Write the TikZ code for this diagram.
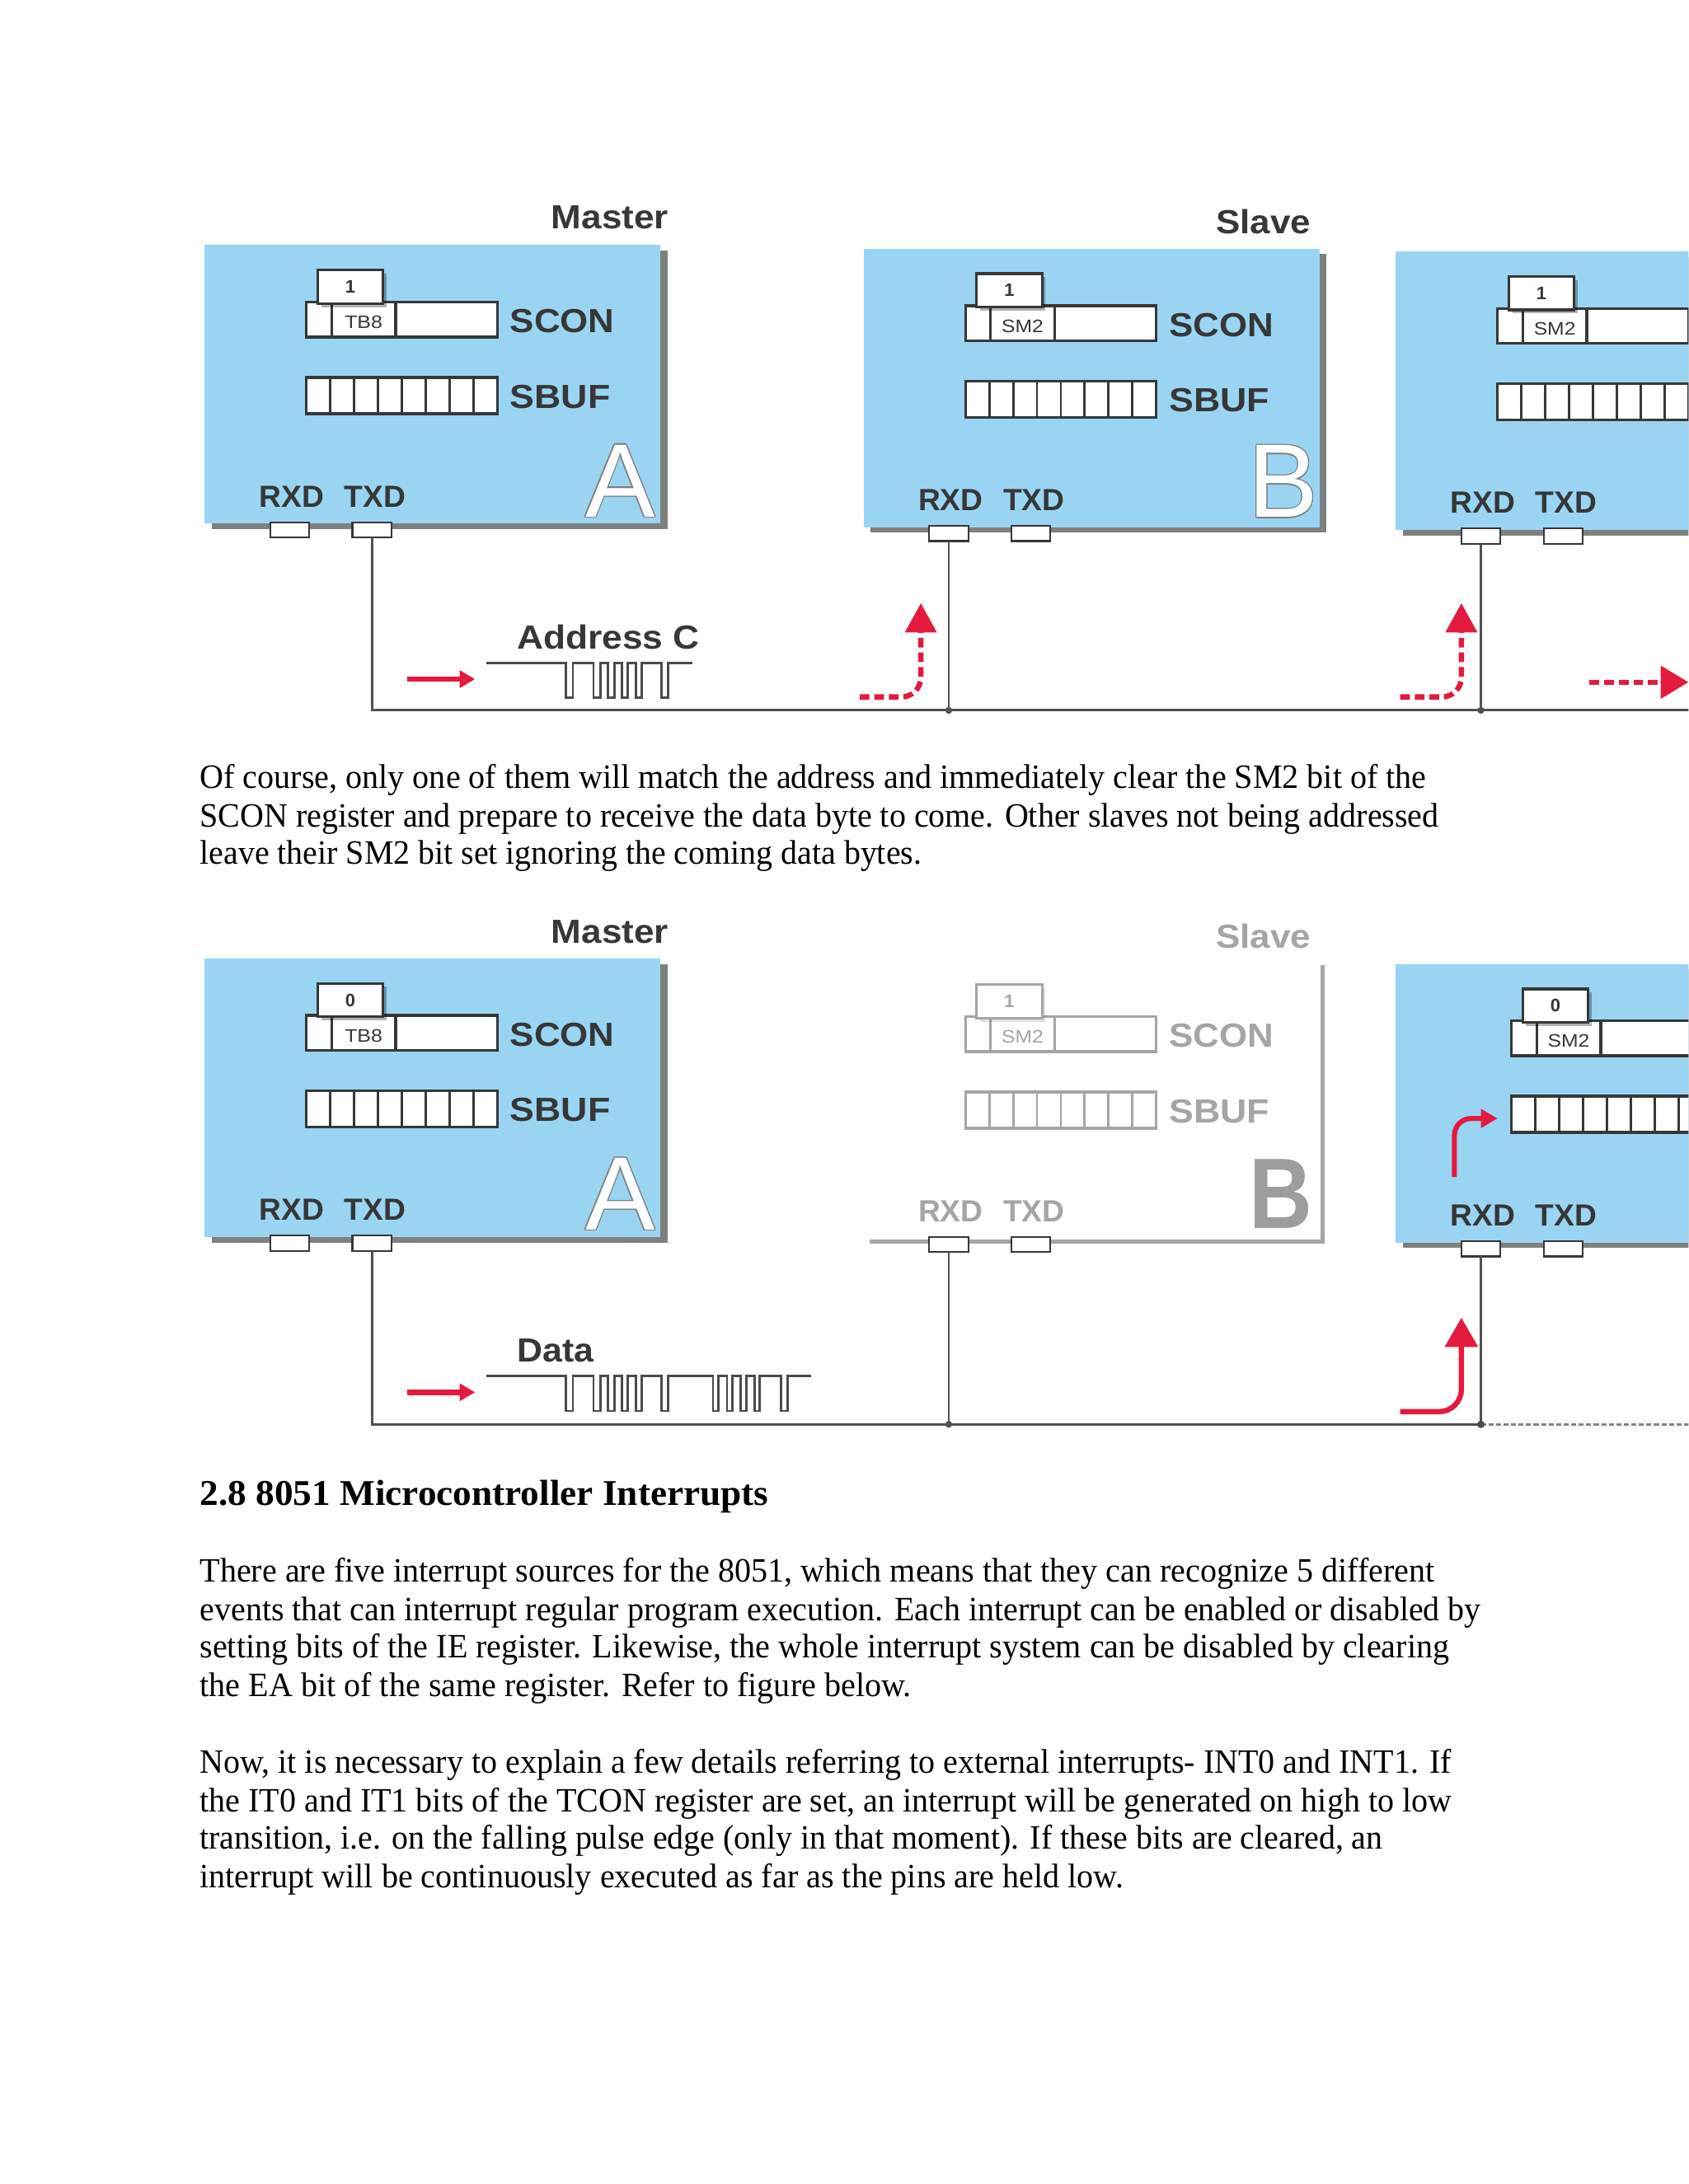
\documentclass[tikz,border=0pt]{standalone}
\usepackage{fontspec}
\usepackage{graphicx}
\usepackage{contour}
\setmainfont{Liberation Serif}
\newfontfamily\diagfont{Liberation Sans}
\usetikzlibrary{arrows.meta,shadows}
\contourlength{0.7pt}
\definecolor{mcublue}{RGB}{153,213,242}
\definecolor{shade}{RGB}{128,128,128}
\definecolor{ink}{RGB}{55,55,55}
\definecolor{faded}{RGB}{165,165,165}
\definecolor{wiregray}{RGB}{80,80,80}
\definecolor{sigred}{RGB}{228,26,62}
\newcommand\fs[1]{\fontsize{#1}{#1}\selectfont}
\newcommand\fitw[2]{\resizebox{#1pt}{\height}{#2}}
% registers in the local frame of the master box of the first diagram
\newcommand\mcuregs[6]{%
  \node[myreg=#4, minimum width=137pt, minimum height=25pt] (#1scon) at (288.5,229.5) {};
  \draw[#4, line width=1.9pt] (238,217) -- (238,242) (284,217) -- (284,242);
  \node[inner sep=0pt, font=\diagfont\fs{13}, text=#5] (#1bitlab) at (261,231.5) {#3};
  \fill[black, opacity=#6] (230.5,196.5) rectangle (277.5,220.5);
  \node[mybit=#4, text=#5] (#1bit) at (251.5,206) {#2};
  \node[myreg=#4, minimum width=137pt, minimum height=26pt] (#1sbuf) at (288.5,284) {};
  \foreach \k in {1,...,7} \draw[#4, line width=1.7pt] ({220+\k*17.125},271) -- ({220+\k*17.125},297);
}
\newcommand\mcutexts[2]{%
  \node[mybig, text=#2] (#1sconlab) at (366,239) {\fitw{75}{SCON}};
  \node[mybig, text=#2] (#1sbuflab) at (366,293) {\fitw{72}{SBUF}};
}
\newcommand\mcupins[2]{%
  \node[mypinlab, text=#2] (#1rxd) at (186,364) {RXD};
  \node[mypinlab, text=#2] (#1txd) at (247,364) {TXD};
  \node[mypinbox] (#1rxp) at (208,380.5) {};
  \node[mypinbox] (#1txp) at (267,380.5) {};
}
\begin{document}
\begin{tikzpicture}[x=1pt,y=-1pt,
  mcubox/.style={fill=mcublue, minimum width=327pt, minimum height=200pt, inner sep=0pt, outer sep=0pt,
    drop shadow={shadow xshift=5pt, shadow yshift=-4pt, fill=shade, opacity=1}},
  myreg/.style={draw=#1, line width=1.9pt, fill=white, inner sep=0pt, outer sep=0pt},
  mybit/.style={draw=#1, line width=1.9pt, fill=white, inner sep=0pt, minimum width=47pt, minimum height=24pt, font=\diagfont\bfseries\fs{13}},
  mypinbox/.style={draw=ink, line width=1.3pt, fill=white, minimum width=28pt, minimum height=11pt, inner sep=0pt, outer sep=0pt},
  mybig/.style={anchor=base west, inner sep=0pt, font=\diagfont\bfseries\fs{24}},
  mytitle/.style={anchor=base east, inner sep=0pt, font=\diagfont\bfseries\fs{24}},
  mypinlab/.style={anchor=base west, inner sep=0pt, font=\diagfont\bfseries\fs{22}},
  myletter/.style={anchor=base west, inner sep=0pt, font=\diagfont\fs{75}, text=white},
  mywire/.style={draw=wiregray, line width=1.7pt},
  mydot/.style={fill=wiregray},
  myred/.style={draw=sigred, line width=3.8pt},
  mywave/.style={draw=ink!90, line width=1.6pt},
  mybody/.style={anchor=base west, inner sep=0pt, font=\fs{24.5}},
  myhead/.style={anchor=base west, inner sep=0pt, font=\bfseries\fs{26}}]
\useasboundingbox (0,0) rectangle (1212,1568);
\clip (0,0) rectangle (1212,1568);
\fill[white] (0,0) rectangle (1212,1568);

% ================= Diagram 1 =================
\node[mytitle, text=ink] (t1m) at (480,164) {\fitw{84}{Master}};
\node[mytitle, text=ink] (t1s) at (941,167.6) {\fitw{68}{Slave}};

\node[mcubox] (A1box) at (310.5,276) {};
\mcuregs{A1}{1}{\fitw{27}{TB8}}{ink}{ink}{0.3}
\mcutexts{A1}{ink}
\mcupins{A1}{ink}
\node[myletter] (A1let) at (420,371) {\contour{shade}{A}};

\begin{scope}[shift={(473,2.5)}]
  \node[mcubox] (B1box) at (310.5,276) {};
  \mcuregs{B1}{1}{\fitw{30}{SM2}}{ink}{ink}{0.3}
  \mcutexts{B1}{ink}
  \mcupins{B1}{ink}
  \node[myletter] (B1let) at (423,369) {\contour{shade}{B}};
\end{scope}

\begin{scope}[shift={(855,4.5)}]
  \node[mcubox] (C1box) at (310.5,276) {};
  \mcuregs{C1}{1}{\fitw{30}{SM2}}{ink}{ink}{0.3}
  \mcupins{C1}{ink}
\end{scope}

\coordinate (bus1y) at (0,510);
\coordinate (bus1end) at (1216,510);
\draw[mywire] (A1txp.south) |- (bus1end);
\draw[mywire] (B1rxp.south) -- (B1rxp.south |- bus1y);
\draw[mywire] (C1rxp.south) -- (C1rxp.south |- bus1y);
\fill[mydot] (B1rxp.south |- bus1y) circle (2.5);
\fill[mydot] (C1rxp.south |- bus1y) circle (2.5);

\coordinate (ra1s) at (292,487.6);
\coordinate (ra1e) at (341,487.6);
\draw[myred, -{Triangle[length=11pt,width=12pt]}] (ra1s) -- (ra1e);
\node[mybig, text=ink] (addr) at (371,466) {\fitw{131}{Address C}};
\draw[mywave] (349,476) -- (406.4,476) -- (406.4,501) -- (411.3,501) -- (411.3,476) -- (426,476) -- (426,501) -- (430.9,501) -- (430.9,476) -- (436.3,476) -- (436.3,501) -- (441.2,501) -- (441.2,476) -- (446.6,476) -- (446.6,501) -- (450.4,501) -- (450.4,476) -- (456.6,476) -- (456.6,501) -- (460.7,501) -- (460.7,476) -- (474.9,476) -- (474.9,501) -- (479.7,501) -- (479.7,476) -- (497,476);

\coordinate (da1s) at (617,500.4);
\coordinate (da1e) at (661,433);
\coordinate (da2s) at (1005,500.4);
\coordinate (da2e) at (1049,433);
\coordinate (da3s) at (1141,489.8);
\coordinate (da3e) at (1212,489.8);
\draw[myred, dash pattern=on 7pt off 3.5pt, rounded corners=14pt, -{Triangle[length=21pt,width=22pt]}] (da1s) -| (da1e);
\draw[myred, dash pattern=on 7pt off 3.5pt, rounded corners=14pt, -{Triangle[length=21pt,width=22pt]}] (da2s) -| (da2e);
\draw[myred, dash pattern=on 7pt off 3.5pt, -{Triangle[length=20pt,width=23pt]}] (da3s) -- (da3e);

% ================= Text paragraph 1 =================
\node[mybody] (p1a) at (143.3,566) {\fitw{880.4}{Of course, only one of them will match the address and immediately clear the SM2 bit of the}};
\node[mybody] (p1b) at (143.3,593.5) {\fitw{889.3}{SCON register and prepare to receive the data byte to come. Other slaves not being addressed}};
\node[mybody] (p1c) at (143.3,620.5) {\fitw{518.1}{leave their SM2 bit set ignoring the coming data bytes.}};

% ================= Diagram 2 =================
\node[mytitle, text=ink] (t2m) at (480,677) {\fitw{84}{Master}};
\node[mytitle, text=faded] (t2s) at (941,680.5) {\fitw{68}{Slave}};

\begin{scope}[shift={(0,512)}]
  \node[mcubox] (A2box) at (310.5,276) {};
  \mcuregs{A2}{0}{\fitw{27}{TB8}}{ink}{ink}{0.3}
  \mcutexts{A2}{ink}
  \mcupins{A2}{ink}
  \node[myletter] (A2let) at (420,371) {\contour{shade}{A}};
\end{scope}

\draw[faded, line width=3pt] (624,891.5) -- (949.5,891.5) -- (949.5,693);
\begin{scope}[shift={(473,513)}]
  \mcuregs{B2}{1}{\fitw{30}{SM2}}{faded}{faded}{0.12}
  \mcutexts{B2}{faded}
  \mcupins{B2}{faded}
\end{scope}
\node[anchor=base west, inner sep=0pt, font=\diagfont\bfseries\fs{72}, text=faded!95!black] (B2let) at (896.5,881.7) {\fitw{45.5}{B}};

\begin{scope}[shift={(855,516)}]
  \node[mcubox] (C2box) at (310.5,276) {};
  \begin{scope}[shift={(10,0)}]
    \mcuregs{C2}{0}{\fitw{30}{SM2}}{ink}{ink}{0.3}
  \end{scope}
  \mcupins{C2}{ink}
\end{scope}
\coordinate (ri2s) at (1044,845);
\coordinate (ri2e) at (1075,803);
\draw[myred, line width=3.6pt, rounded corners=12pt, -{Triangle[length=12pt,width=13pt]}] (ri2s) |- (ri2e);

\coordinate (bus2y) at (0,1022.6);
\coordinate (bus2end) at (1216,1022.6);
\draw[mywire] (A2txp.south) |- (C2rxp.south |- bus2y);
\draw[mywire] (B2rxp.south) -- (B2rxp.south |- bus2y);
\draw[mywire] (C2rxp.south) -- (C2rxp.south |- bus2y);
\draw[mywire, draw=wiregray!70, dash pattern=on 3.6pt off 1.8pt] (C2rxp.south |- bus2y) -- (bus2end);
\fill[mydot] (B2rxp.south |- bus2y) circle (2.5);
\fill[mydot] (C2rxp.south |- bus2y) circle (2.7);

\coordinate (ra2s) at (292,999.6);
\coordinate (ra2e) at (341,999.6);
\draw[myred, -{Triangle[length=11pt,width=12pt]}] (ra2s) -- (ra2e);
\coordinate (rb2s) at (1005,1013.5);
\coordinate (rb2e) at (1049,946);
\draw[myred, rounded corners=16pt, -{Triangle[length=21pt,width=23pt]}] (rb2s) -| (rb2e);

\node[mybig, text=ink] (data) at (371,978) {\fitw{55}{Data}};
\begin{scope}[shift={(0,512)}]
\draw[mywave] (349,476) -- (406.4,476) -- (406.4,501) -- (411.3,501) -- (411.3,476) -- (426,476) -- (426,501) -- (430.9,501) -- (430.9,476) -- (436.3,476) -- (436.3,501) -- (441.2,501) -- (441.2,476) -- (446.6,476) -- (446.6,501) -- (450.4,501) -- (450.4,476) -- (456.6,476) -- (456.6,501) -- (460.7,501) -- (460.7,476) -- (474.9,476) -- (474.9,501) -- (479.7,501) -- (479.7,476) -- (511.8,476) -- (511.8,501) -- (515.6,501) -- (515.6,476) -- (521.8,476) -- (521.8,501) -- (525.9,501) -- (525.9,476) -- (531.8,476) -- (531.8,501) -- (535.9,501) -- (535.9,476) -- (541.6,476) -- (541.6,501) -- (545.4,501) -- (545.4,476) -- (560.6,476) -- (560.6,501) -- (565.2,501) -- (565.2,476) -- (582,476);
\end{scope}

% ================= Text below =================
\node[myhead] (head) at (143.3,1081) {\fitw{408.2}{2.8 8051 Microcontroller Interrupts}};
\node[mybody] (p2a) at (143.3,1136) {\fitw{886.3}{There are five interrupt sources for the 8051, which means that they can recognize 5 different}};
\node[mybody] (p2b) at (143.3,1163.7) {\fitw{919.6}{events that can interrupt regular program execution. Each interrupt can be enabled or disabled by}};
\node[mybody] (p2c) at (143.3,1190.4) {\fitw{896.7}{setting bits of the IE register. Likewise, the whole interrupt system can be disabled by clearing}};
\node[mybody] (p2d) at (143.3,1218) {\fitw{510.7}{the EA bit of the same register. Refer to figure below.}};
\node[mybody] (p3a) at (143.3,1273.2) {\fitw{898.5}{Now, it is necessary to explain a few details referring to external interrupts- INT0 and INT1. If}};
\node[mybody] (p3b) at (143.3,1300.8) {\fitw{898.5}{the IT0 and IT1 bits of the TCON register are set, an interrupt will be generated on high to low}};
\node[mybody] (p3c) at (143.3,1327.4) {\fitw{849}{transition, i.e. on the falling pulse edge (only in that moment). If these bits are cleared, an}};
\node[mybody] (p3d) at (143.3,1355) {\fitw{663.1}{interrupt will be continuously executed as far as the pins are held low.}};
\end{tikzpicture}
\end{document}
